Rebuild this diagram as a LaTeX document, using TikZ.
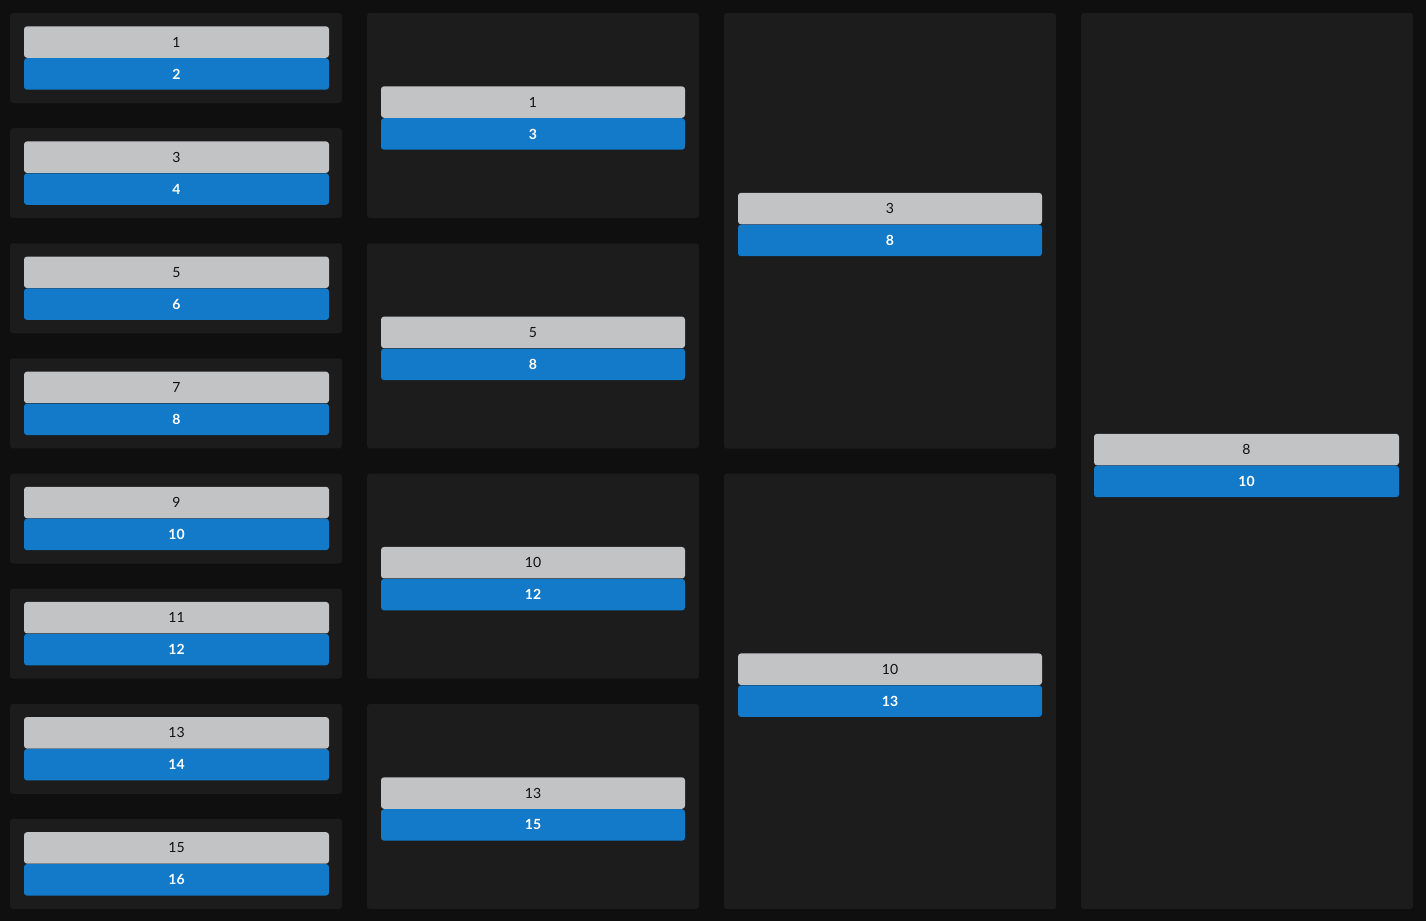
\documentclass[tikz,border=0pt]{standalone}
\usepackage{fontspec}
\setmainfont{Lato}
\definecolor{bgdark}{HTML}{0F0F0F}
\definecolor{panelgrey}{HTML}{1C1C1C}
\definecolor{lowgrey}{HTML}{C2C3C5}
\definecolor{highblue}{HTML}{137AC9}
\definecolor{inkdark}{HTML}{111111}

\begin{document}
\begin{tikzpicture}[x=1pt,y=-1pt,
  panel/.style={fill=panelgrey,rounded corners=3pt},
  bar/.style={rectangle,rounded corners=3pt,inner sep=0pt,minimum height=31.5pt,
    font=\fontsize{14}{16}\selectfont},
  lowbar/.style={bar,fill=lowgrey,text=inkdark,anchor=south},
  highbar/.style={bar,fill=highblue,text=white,anchor=north,font=\fontsize{14}{16}\selectfont\bfseries}]
 \fill[bgdark] (0,0) rectangle (1426,921);
 \useasboundingbox (0,0) rectangle (1426,921);
 % round 1
 \foreach \i/\a/\b in {0/1/2,1/3/4,2/5/6,3/7/8,4/9/10,5/11/12,6/13/14,7/15/16} {
   \pgfmathsetmacro\ptop{13+115.125*\i}
   \fill[panel] (10,\ptop) rectangle ++(332,90);
   \node[lowbar,minimum width=305pt] (ra\i) at (176.5,\ptop+45) {\a};
   \node[highbar,minimum width=305pt] (rb\i) at (176.5,\ptop+45) {\b};
 }
 % round 2
 \foreach \i/\a/\b in {0/1/3,1/5/8,2/10/12,3/13/15} {
   \pgfmathsetmacro\ptop{13+230.33*\i}
   \fill[panel] (367,\ptop) rectangle ++(332,205);
   \node[lowbar,minimum width=304pt] (qa\i) at (533,\ptop+105) {\a};
   \node[highbar,minimum width=304pt] (qb\i) at (533,\ptop+105) {\b};
 }
 % semi finals
 \foreach \i/\a/\b in {0/3/8,1/10/13} {
   \pgfmathsetmacro\ptop{13+460.67*\i}
   \fill[panel] (724,\ptop) rectangle ++(332,435.5);
   \node[lowbar,minimum width=304pt] (sa\i) at (890,\ptop+211.5) {\a};
   \node[highbar,minimum width=304pt] (sb\i) at (890,\ptop+211.5) {\b};
 }
 % final
 \fill[panel] (1081,13) rectangle (1413,909);
 \node[lowbar,minimum width=305pt] (fa) at (1246.5,465.5) {8};
 \node[highbar,minimum width=305pt] (fb) at (1246.5,465.5) {10};
\end{tikzpicture}
\end{document}
